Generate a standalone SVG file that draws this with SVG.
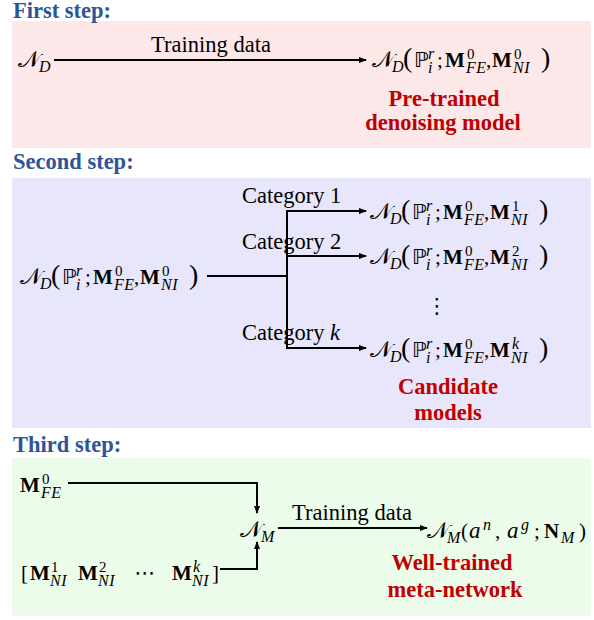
<svg xmlns="http://www.w3.org/2000/svg" xmlns:xlink="http://www.w3.org/1999/xlink" width="594" height="620" viewBox="0 0 594 620">
  <style>
    .hd { font-family: "Liberation Serif", serif; font-weight: bold; font-size: 22.5px; fill: #2F5597; }
    .lbl { font-family: "Liberation Serif", serif; font-size: 22.5px; fill: #000; }
    .red { font-family: "Liberation Serif", serif; font-weight: bold; font-size: 22.5px; fill: #C00000; text-anchor: middle; }
    .scr { font-family: "DejaVu Serif", "DejaVu Sans", "Noto Sans", serif; font-size: 23px; fill: #000; }
    .bb { font-family: "DejaVu Sans", "DejaVu Serif", sans-serif; font-size: 21px; fill: #000; }
    .rm { font-family: "Liberation Serif", serif; font-size: 21px; fill: #000; }
    .par { font-family: "Liberation Serif", serif; font-size: 28px; fill: #000; }
    .bf { font-family: "Liberation Serif", serif; font-weight: bold; font-size: 21px; fill: #000; }
    .it { font-family: "Liberation Serif", serif; font-style: italic; font-size: 16px; letter-spacing: 0.5px; fill: #000; }
    .itl { font-family: "Liberation Serif", serif; font-style: italic; font-size: 23px; fill: #000; }
    .sup { font-family: "Liberation Serif", serif; font-size: 15px; fill: #000; }
    .ln { fill: none; stroke: #000; stroke-width: 2; }
    .arr { fill: none; stroke: #000; stroke-width: 2; marker-end: url(#ah); }
  </style>
  <defs>
    <marker id="ah" viewBox="0 0 8 6" refX="7" refY="3" markerWidth="8" markerHeight="6" markerUnits="userSpaceOnUse" orient="auto">
      <path d="M0,0 L8,3 L0,6 z" fill="#000"/>
    </marker>
    <!-- N_D(P_i^r; M^0_FE, M_NI) without the last superscript; origin = left of N at baseline -->
    <g id="nd">
      <text class="scr" x="0" y="0">𝒩</text>
      <text class="it" x="20" y="5">D</text>
      <text class="par" x="31" y="0">(</text>
      <text class="bb" x="42" y="0">ℙ</text>
      <text class="it" x="56" y="-8">r</text>
      <text class="it" x="56" y="6">i</text>
      <text class="rm" x="65" y="0">;</text>
      <text class="bf" x="73" y="0">M</text>
      <text class="sup" x="95" y="-8">0</text>
      <text class="it" x="94" y="6">FE</text>
      <text class="rm" x="114" y="0">,</text>
      <text class="bf" x="120" y="0">M</text>
      <text class="it" x="141" y="6" letter-spacing="1">NI</text>
      <text class="par" x="169" y="0">)</text>
    </g>
  </defs>

  <!-- panel backgrounds -->
  <rect x="12" y="21" width="579" height="127" fill="#FCE8E8"/>
  <rect x="12" y="178" width="579" height="250" fill="#E7E6FA"/>
  <rect x="12" y="458" width="579" height="158" fill="#ECFCEA"/>

  <!-- step headings -->
  <text class="hd" x="13" y="18">First step:</text>
  <text class="hd" x="13" y="169">Second step:</text>
  <text class="hd" x="13" y="452">Third step:</text>

  <!-- connectors -->
  <g id="connectors">
    <line class="arr" x1="54" y1="60" x2="366" y2="60"/>
    <line class="ln" x1="207" y1="276" x2="287" y2="276"/>
    <line class="ln" x1="287" y1="210" x2="287" y2="349"/>
    <line class="arr" x1="286" y1="211" x2="366" y2="211"/>
    <line class="arr" x1="287" y1="256" x2="366" y2="256"/>
    <line class="arr" x1="286" y1="348" x2="366" y2="348"/>
    <polyline class="arr" points="68,483 257,483 257,513"/>
    <polyline class="arr" points="220,569 257,569 257,542"/>
    <line class="arr" x1="278" y1="528" x2="427" y2="528"/>
  </g>

  <!-- edge labels -->
  <text class="lbl" x="211" y="52" text-anchor="middle">Training data</text>
  <text class="lbl" x="242" y="203">Category 1</text>
  <text class="lbl" x="242" y="249">Category 2</text>
  <text class="lbl" x="242" y="340">Category <tspan font-style="italic">k</tspan></text>
  <text class="lbl" x="352" y="520" text-anchor="middle">Training data</text>

  <!-- first step -->
  <g id="nd-untrained">
    <text class="scr" x="18" y="67">𝒩</text>
    <text class="it" x="39" y="72">D</text>
  </g>
  <g id="nd-pretrained">
    <use xlink:href="#nd" x="372" y="67"/>
    <text class="sup" x="514" y="59">0</text>
    <text class="red" x="444" y="106">Pre-trained</text>
    <text class="red" x="443" y="130">denoising model</text>
  </g>

  <!-- second step -->
  <g id="nd-source">
    <use xlink:href="#nd" x="20" y="284"/>
    <text class="sup" x="162" y="276">0</text>
  </g>
  <g id="nd-cat1">
    <use xlink:href="#nd" x="370" y="219"/>
    <text class="sup" x="512" y="211">1</text>
  </g>
  <g id="nd-cat2">
    <use xlink:href="#nd" x="370" y="264"/>
    <text class="sup" x="512" y="256">2</text>
  </g>
  <g id="nd-dots">
    <text class="bb" x="437" y="313" font-size="20" text-anchor="middle">⋮</text>
  </g>
  <g id="nd-catk">
    <use xlink:href="#nd" x="370" y="357"/>
    <text class="it" x="512" y="349">k</text>
    <text class="red" x="448" y="394">Candidate</text>
    <text class="red" x="448" y="420">models</text>
  </g>

  <!-- third step -->
  <g id="m-fe">
    <text class="bf" x="20" y="492">M</text>
    <text class="sup" x="42" y="484">0</text>
    <text class="it" x="41" y="498">FE</text>
  </g>
  <g id="m-ni">
    <text class="rm" x="21" y="580" font-size="23">[</text>
    <text class="bf" x="30" y="580">M</text>
    <text class="sup" x="51" y="572">1</text>
    <text class="it" x="50" y="586" letter-spacing="1">NI</text>
    <text class="bf" x="78" y="580">M</text>
    <text class="sup" x="99" y="572">2</text>
    <text class="it" x="98" y="586" letter-spacing="1">NI</text>
    <text class="bb" x="145" y="580" font-size="16" text-anchor="middle">⋯</text>
    <text class="bf" x="172" y="580">M</text>
    <text class="it" x="193" y="572">k</text>
    <text class="it" x="192" y="586" letter-spacing="1">NI</text>
    <text class="rm" x="212" y="580" font-size="23">]</text>
  </g>
  <g id="nm">
    <text class="scr" x="240" y="537">𝒩</text>
    <text class="it" x="261" y="542">M</text>
  </g>
  <g id="nm-trained">
    <text class="scr" x="427" y="538">𝒩</text>
    <text class="it" x="447" y="543">M</text>
    <text class="rm" x="461" y="538" font-size="22">(</text>
    <text class="itl" x="469" y="538">a</text>
    <text class="it" x="483" y="530" font-size="18">n</text>
    <text class="rm" x="495" y="538" font-size="22">,</text>
    <text class="itl" x="507" y="538">a</text>
    <text class="it" x="521" y="530" font-size="18">g</text>
    <text class="rm" x="534" y="538" font-size="22">;</text>
    <text class="bf" x="544" y="538" font-size="22">N</text>
    <text class="it" x="561" y="543">M</text>
    <text class="rm" x="579" y="538" font-size="22">)</text>
    <text class="red" x="452" y="570">Well-trained</text>
    <text class="red" x="455" y="597">meta-network</text>
  </g>
</svg>
